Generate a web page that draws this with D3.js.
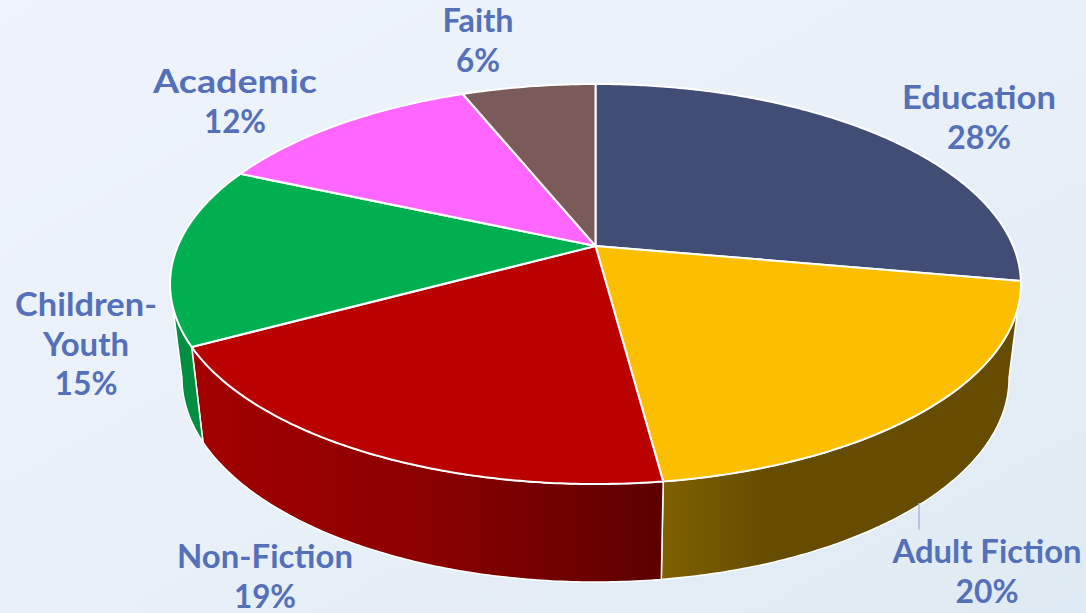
<!DOCTYPE html>
<html><head><meta charset="utf-8">
<script src="https://cdn.jsdelivr.net/npm/d3@7/dist/d3.min.js"></script>
<style>html,body{margin:0;padding:0;overflow:hidden;background:#e8f0f8}svg{display:block}</style>
</head><body><svg id="c" width="1086" height="613"></svg>
<script>
const categories = ["Education","Adult Fiction","Non-Fiction","Children-Youth","Academic","Faith"];
const shares = [27.8,20.1,19.2,14.5,12.3,6.1];
const topColors = ["#414d75","#fbbf00","#bb0000","#00af50","#ff66ff","#7b5b59"];
const wallStops = [
  [[0,"#414d75"],[1,"#414d75"]],
  [[0,"#7f6100"],[0.3,"#654c00"],[1,"#654c00"]],
  [[0,"#a30000"],[0.5,"#8b0000"],[1,"#5c0000"]],
  [[0,"#008f40"],[1,"#008f40"]],
  [[0,"#c050c0"],[1,"#c050c0"]],
  [[0,"#5c4443"],[1,"#5c4443"]]
];
const labelLines = [["Education","28%"],["Adult Fiction","20%"],["Non-Fiction","19%"],["Children-","Youth","15%"],["Academic","12%"],["Faith","6%"]];
const labelWidths = [[154,64],[189,63],[176,62],[142,86,63],[164,62],[71,44]];
const labelAt = [[979,98],[987,552],[265,557],[86,305],[235,82],[478,21]];

const svg = d3.select("#c"), W=1086, H=613;
const defs = svg.append("defs");
const bg = defs.append("linearGradient").attr("id","bg").attr("x1",0).attr("y1",0).attr("x2",1).attr("y2",1);
bg.append("stop").attr("offset",0).attr("stop-color","#eff4fc");
bg.append("stop").attr("offset",0.5).attr("stop-color","#e9f0f8");
bg.append("stop").attr("offset",1).attr("stop-color","#deeaf3");
svg.append("rect").attr("width",W).attr("height",H).attr("fill","url(#bg)");

// perspective of the tilted disc
const cx=595.5, cy=246, k=0.19, a=417.7, b=192.8, shrink=0.972;
const project = t => { const u=Math.sin(t), v=-Math.cos(t), d=1-k*v; return [cx+a*u/d, cy+b*v/d]; };
const lower = p => [cx+shrink*(p[0]-cx), 378+1.02*(p[1]-284)];
const arcPts = (s,e) => { const n=Math.max(2,Math.ceil((e-s)/0.01)); return d3.range(n+1).map(i=>project(s+(e-s)*i/n)); };
const line = d3.line();

const arcs = d3.pie().sort(null).value(d=>d)(shares);
const frontS = Math.PI/2+Math.asin(k)-0.002, frontE = 1.5*Math.PI-Math.asin(k);

// walls
const walls = svg.append("g");
arcs.forEach((d,i)=>{
  const s=Math.max(d.startAngle,frontS), e=Math.min(d.endAngle,frontE);
  if(e<=s) return;
  const pts=arcPts(s,e), low=pts.map(lower).reverse();
  const xs=pts.concat(low).map(p=>p[0]);
  const g=defs.append("linearGradient").attr("id","w"+i).attr("gradientUnits","userSpaceOnUse")
    .attr("x1",d3.min(xs)).attr("x2",d3.max(xs)).attr("y1",0).attr("y2",0);
  wallStops[i].forEach(st=>g.append("stop").attr("offset",st[0]).attr("stop-color",st[1]));
  walls.append("path").attr("d",line(pts.concat(low))+"Z").attr("fill",`url(#w${i})`)
    .attr("stroke","#fff").attr("stroke-width",1.5).attr("stroke-linejoin","round");
});

// top faces
svg.append("g").selectAll("path").data(arcs).join("path")
  .attr("d",d=>line([[cx,cy]].concat(arcPts(d.startAngle,d.endAngle)))+"Z")
  .attr("fill",(d,i)=>topColors[i]).attr("stroke","#fff").attr("stroke-width",2).attr("stroke-linejoin","round");

// leader
svg.append("line").attr("x1",919).attr("x2",919).attr("y1",503).attr("y2",530).attr("stroke","#a9b9da").attr("stroke-width",1.5);

// labels
const lab = svg.append("g").attr("font-family","Lato, 'Open Sans', sans-serif").attr("font-weight",700)
  .attr("font-size",32).attr("fill","#5470b9").attr("text-anchor","middle");
labelLines.forEach((ls,i)=>{
  ls.forEach((t,j)=>lab.append("text").attr("x",labelAt[i][0]).attr("y",labelAt[i][1]+j*39.5+11)
    .attr("textLength",labelWidths[i][j]).attr("lengthAdjust","spacingAndGlyphs").text(t));
});
</script></body></html>
